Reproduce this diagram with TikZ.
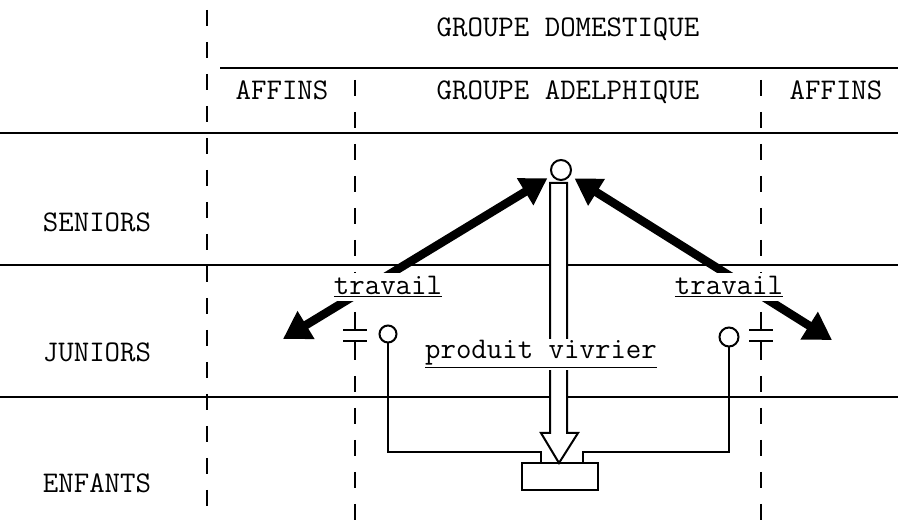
\documentclass[tikz,border=0pt]{standalone}
\usetikzlibrary{arrows.meta,positioning}
\tikzset{rang/.style={line width=2pt},
  colonne/.style={line width=1.5pt, dash pattern=on 16pt off 16pt},
  etiq/.style={font=\fontsize{30}{32}\selectfont\ttfamily, inner sep=1pt, anchor=base},
  couvre/.style={etiq, fill=white, inner sep=4pt},
  effort/.style={line width=8.5pt, {Triangle[length=27pt,width=31pt]}-{Triangle[length=26pt,width=30pt]}},
  lien/.style={line width=2pt},
  rond/.style={circle, draw, line width=2pt, inner sep=0pt}}

\begin{document}
\begin{tikzpicture}[x=1pt,y=-1pt]
    \useasboundingbox (0,0) rectangle (898,521);
    % lignes et colonnes
    \draw[rang] (220,68) -- (898,68);
    \draw[rang] (0,133) -- (898,133);
    \draw[rang] (0,265) -- (898,265);
    \draw[rang] (0,397) -- (898,397);
    \draw[colonne] (207,10) -- (207,521);
    \foreach \x in {355,761} {
      \draw[colonne] (\x,80) -- (\x,300);
      \draw[lien] (\x,312) -- (\x,330) (\x-12,330) -- (\x+12,330);
      \draw[lien] (\x-12,341) -- (\x+12,341) (\x,341) -- (\x,360);
      \draw[colonne] (\x,376) -- (\x,521);
    }
    % titres
    \node[etiq] (domest) at (568,37) {GROUPE DOMESTIQUE};
    \node[etiq] (affg) at (282,100) {AFFINS};
    \node[etiq] (adelph) at (568,100) {GROUPE ADELPHIQUE};
    \node[etiq] (affd) at (836,100) {AFFINS};
    \node[etiq] (sen) at (97,232) {SENIORS};
    \node[etiq] (jun) at (97,362) {JUNIORS};
    \node[etiq] (enf) at (97,493) {ENFANTS};
    % personnes et grenier
    \node[rond, minimum size=20pt] (sommet) at (561,170) {};
    \node[rond, minimum size=17pt] (cg) at (388,334) {};
    \node[rond, minimum size=19pt] (cd) at (729,337) {};
    \node[draw, line width=2pt, minimum width=76pt, minimum height=27pt, inner sep=0pt] (stock) at (560,477) {};
    \coordinate (tg) at (283,339);
    \coordinate (td) at (832,340);
    \coordinate (jg) at (541,452);
    \coordinate (jd) at (583,452);
    \draw[effort, shorten >=5pt] (tg) -- (sommet);
    \draw[effort, shorten >=5pt] (td) -- (sommet);
    \draw[lien, fill=white] (550,183) -- (550,433) -- (541,433) -- (559,463)
      -- (578,433) -- (567,433) -- (567,183) -- cycle;
    \draw[lien] (cg.south) |- (jg) -- (jg |- stock.north);
    \draw[lien] (cd.south) |- (jd) -- (jd |- stock.north);
    \node[couvre] (trg) at (388,295) {\underline{travail}};
    \node[couvre] (trd) at (729,295) {\underline{travail}};
    \node[couvre, inner sep=2pt] (vivr) at (541,359) {\underline{produit vivrier}};
\end{tikzpicture}
\end{document}
